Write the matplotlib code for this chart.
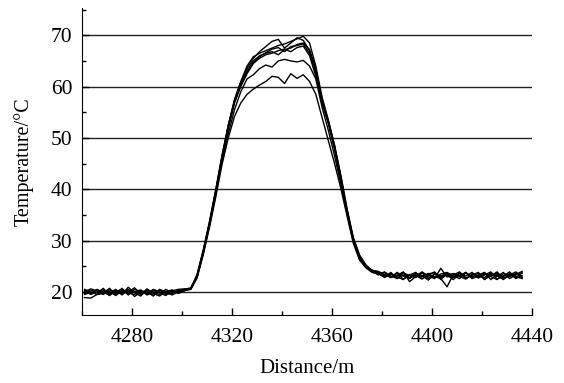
import numpy as np
import matplotlib.pyplot as plt
from matplotlib.ticker import MultipleLocator

plt.rcParams['font.family'] = ['Liberation Serif', 'DejaVu Serif']

# distance grid (m), one sample every 2.5 m
distance = np.arange(4261, 4437, 2.5)

# temperature traces (°C)
t1 = [20.2, 19.6, 20.5, 19.8, 20.7, 19.5, 20.3, 20.0, 20.8, 19.6, 20.2, 19.3, 20.5, 19.8, 20.3, 20.0, 20.4,
      20.6, 23.2, 28.0, 33.5, 39.8, 46.5, 52.5, 57.5, 61.0,
      64.0, 65.8, 66.5, 67.0, 67.5, 68.0, 68.3, 68.8, 69.3, 69.8, 68.5, 64.0, 58.0,
      53.5, 48.5, 42.5, 36.0, 30.5, 27.0, 25.2, 24.2,
      23.9, 23.4, 22.8, 23.6, 22.5, 23.3, 23.8, 22.6, 23.2, 23.9, 22.4, 23.5, 22.9, 23.7, 22.6, 23.3, 23.8, 22.5, 23.1, 23.7, 22.6, 23.3, 23.9, 22.9]
t2 = [19.7, 20.4, 19.8, 20.7, 19.4, 20.2, 19.6, 20.9, 19.8, 19.2, 20.4, 20.0, 19.5, 20.5, 19.8, 20.2, 20.5,
      20.8, 23.0, 27.8, 33.2, 39.5, 46.2, 52.3, 57.3, 60.8,
      63.5, 65.5, 66.8, 67.8, 68.8, 69.2, 67.5, 68.5, 69.5, 69.0, 67.0, 62.5, 57.0,
      53.0, 48.0, 42.0, 35.8, 30.3, 26.8, 25.0, 24.0,
      23.6, 22.9, 23.8, 22.6, 23.3, 22.8, 23.5, 23.0, 23.6, 22.6, 24.6, 22.9, 23.3, 23.9, 22.7, 23.2, 23.6, 22.4, 23.5, 23.0, 23.8, 22.6, 23.3, 23.6]
t3 = [18.9, 18.8, 19.5, 19.7, 20.1, 19.3, 20.2, 19.6, 20.0, 20.4, 19.4, 19.9, 20.3, 19.7, 20.1, 19.9, 20.3,
      20.5, 22.8, 27.5, 33.0, 39.2, 45.8, 52.0, 57.0, 60.3,
      63.0, 65.0, 66.0, 66.5, 66.8, 66.2, 67.2, 67.5, 68.2, 68.5, 67.2, 63.5, 57.5,
      53.2, 48.2, 42.3, 35.5, 30.0, 26.5, 24.8, 24.3,
      23.3, 23.8, 22.8, 23.2, 23.9, 22.0, 23.0, 23.7, 22.6, 23.5, 23.0, 23.3, 22.4, 23.6, 23.1, 23.8, 22.7, 23.3, 23.9, 22.5, 23.0, 23.5, 22.7, 23.8]
t4 = [20.5, 20.0, 19.5, 20.2, 19.8, 20.5, 19.4, 20.4, 20.1, 19.5, 20.6, 19.7, 19.2, 20.0, 20.4, 19.7, 20.2,
      20.7, 23.4, 28.2, 33.8, 40.0, 46.6, 52.4, 57.2, 60.5,
      62.8, 64.6, 65.8, 66.6, 67.3, 67.6, 66.8, 67.8, 68.0, 68.3, 66.5, 62.8, 57.2,
      53.4, 48.6, 42.8, 36.2, 30.6, 27.2, 25.3, 24.1,
      23.7, 23.1, 23.6, 22.9, 22.4, 23.4, 23.1, 23.9, 22.9, 22.7, 23.5, 23.8, 23.1, 22.6, 23.7, 22.9, 23.3, 23.8, 22.4, 23.4, 23.1, 23.9, 22.6, 23.2]
t5 = [20.0, 20.6, 20.2, 19.5, 20.4, 19.8, 20.7, 19.4, 20.5, 20.0, 19.6, 20.4, 19.8, 19.3, 20.2, 20.5, 20.6,
      20.6, 23.1, 27.9, 33.4, 39.6, 46.0, 51.8, 56.8, 60.0,
      62.5, 64.5, 65.5, 66.2, 66.5, 67.0, 67.3, 66.8, 67.6, 67.9, 66.0, 62.0, 56.8,
      52.8, 47.8, 41.8, 35.6, 30.2, 26.6, 24.9, 23.9,
      23.4, 23.9, 23.1, 22.6, 23.7, 23.2, 22.8, 23.8, 23.2, 23.0, 22.6, 21.0, 23.4, 23.0, 23.8, 22.6, 23.1, 23.7, 23.0, 22.4, 23.6, 23.1, 23.4, 24.0]
t6 = [19.5, 19.9, 20.4, 20.0, 19.3, 20.2, 19.8, 20.5, 19.1, 20.0, 19.6, 20.5, 20.0, 19.5, 19.7, 20.3, 20.4,
      20.5, 22.9, 27.6, 33.1, 39.0, 45.5, 50.8, 55.5, 59.0,
      61.5, 62.3, 63.5, 64.2, 63.8, 65.0, 65.3, 65.0, 64.8, 65.1, 64.0, 61.5, 56.0,
      51.5, 46.5, 41.0, 35.2, 29.8, 26.4, 25.0, 24.2,
      24.0, 23.3, 22.9, 23.8, 23.1, 22.6, 23.6, 23.2, 22.3, 23.5, 23.1, 23.7, 22.8, 23.2, 23.8, 22.8, 23.0, 23.5, 23.1, 23.9, 22.7, 23.0, 23.6, 22.8]
t7 = [20.3, 19.5, 20.0, 20.4, 19.7, 20.0, 20.5, 19.8, 19.5, 20.2, 20.0, 19.2, 20.4, 20.1, 19.4, 20.0, 20.3,
      20.6, 22.7, 27.3, 32.6, 38.5, 44.8, 50.0, 54.2, 56.8,
      58.5, 59.5, 60.3, 61.0, 62.0, 61.8, 60.6, 62.5, 61.6, 62.3, 61.0, 58.5, 54.0,
      49.5, 45.0, 40.2, 34.8, 29.5, 26.2, 24.7, 23.8,
      23.6, 22.8, 23.5, 23.1, 23.8, 22.7, 23.2, 22.5, 23.5, 23.8, 22.8, 23.3, 23.6, 23.0, 22.5, 23.5, 23.1, 22.8, 23.7, 23.2, 22.4, 23.5, 23.0, 22.6]

traces = [t1, t2, t3, t4, t5, t6, t7]

fig = plt.figure(figsize=(5.64, 3.83), dpi=100)
ax = fig.add_axes([0.1454, 0.1775, 0.798, 0.8015])

for t in traces:
    ax.plot(distance, t, color='black', lw=1.0)

ax.set_xlim(4260, 4440)
ax.set_ylim(15.5, 75.3)
ax.xaxis.set_major_locator(MultipleLocator(40))
ax.xaxis.set_minor_locator(MultipleLocator(20))
ax.yaxis.set_major_locator(MultipleLocator(10))
ax.yaxis.set_minor_locator(MultipleLocator(5))
ax.tick_params(which='both', direction='in', labelsize=15.5, width=1)
ax.tick_params(which='major', length=5)
ax.tick_params(which='minor', length=3)
ax.tick_params(axis='x', pad=9)
ax.tick_params(axis='y', pad=7)

ax.grid(axis='y', which='major', color='#222222', lw=1.0)
ax.set_axisbelow(True)
ax.spines['top'].set_visible(False)
ax.spines['right'].set_visible(False)

ax.set_xlabel('Distance/m', fontsize=15, labelpad=9)
ax.set_ylabel('Temperature/°C', fontsize=14.5, labelpad=12)

fig.savefig('out.png', dpi=100)
